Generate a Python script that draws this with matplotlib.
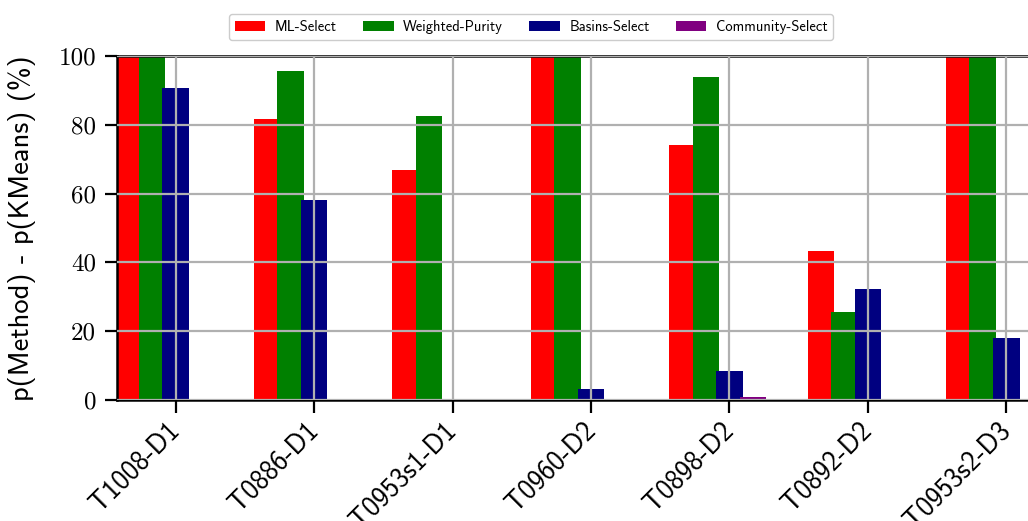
import matplotlib
matplotlib.use('Agg')
import matplotlib.pyplot as plt
import matplotlib.transforms as mtransforms
import numpy as np

targets = ['T1008-D1', 'T0886-D1', 'T0953s1-D1', 'T0960-D2', 'T0898-D2', 'T0892-D2', 'T0953s2-D3']
methods = ['ML-Select', 'Weighted-Purity', 'Basins-Select', 'Community-Select']
colors = ['red', 'green', 'navy', 'purple']

ml_select = [100, 81.7, 66.9, 100, 74.2, 43.4, 100]
weighted_purity = [100, 95.7, 82.7, 100, 93.8, 25.7, 100]
basins_select = [90.6, 58.2, 0.0, 3.3, 8.3, 32.3, 17.9]
community_select = [0.3, 0.3, 0.3, 0.3, 0.8, 0.2, 0.3]

plt.rcParams['font.family'] = 'cmss10'
plt.rcParams['axes.formatter.use_mathtext'] = True

def main():
    fig = plt.figure(figsize=(10.28, 5.21), dpi=100)
    # axes run past the right edge of the figure
    ax = fig.add_axes([117 / 1028, 1 - 400 / 521, (1065 - 117) / 1028, (400 - 56) / 521])

    x = np.arange(len(targets))
    step = 0.17
    width = 0.192
    series = [ml_select, weighted_purity, basins_select, community_select]
    for i, (vals, name, c) in enumerate(zip(series, methods, colors)):
        ax.bar(x + (i - 2) * step, vals, width, color=c, label=name)

    ax.set_xlim(-0.424, len(targets) - 1 + 0.424)
    ax.set_ylim(0, 100)
    ax.set_xticks(x)
    ax.set_xticklabels(targets, rotation=45, ha='right', va='center', rotation_mode='anchor', fontsize=19.5)
    # nudge the rotated labels a little to the left
    shift = mtransforms.ScaledTranslation(-7 / 72, 0, fig.dpi_scale_trans)
    for lbl in ax.get_xticklabels():
        lbl.set_transform(lbl.get_transform() + shift)
    ax.set_yticks([0, 20, 40, 60, 80, 100])
    ax.set_yticklabels(['0', '20', '40', '60', '80', '100'], fontfamily='cmr10', fontsize=18)
    ax.set_ylabel('p(Method) - p(KMeans) (%)', fontsize=20.5, labelpad=16)
    ax.grid(True, color='#b0b0b0', linewidth=1.6)
    ax.set_axisbelow(False)
    for s in ax.spines.values():
        s.set_linewidth(1.8)
    ax.tick_params(width=1.6, length=9)
    ax.tick_params(axis='y', pad=6)
    ax.tick_params(axis='x', pad=10)

    fig.legend(loc='center', bbox_to_anchor=(531 / 1028, 1 - 27 / 521), ncol=4, fontsize=10.5,
               handlelength=2.1, handletextpad=0.65, columnspacing=1.8,
               edgecolor='#cccccc', framealpha=1)

    fig.savefig('out.png', dpi=100)
    plt.close(fig)

if __name__ == "__main__":
    main()
